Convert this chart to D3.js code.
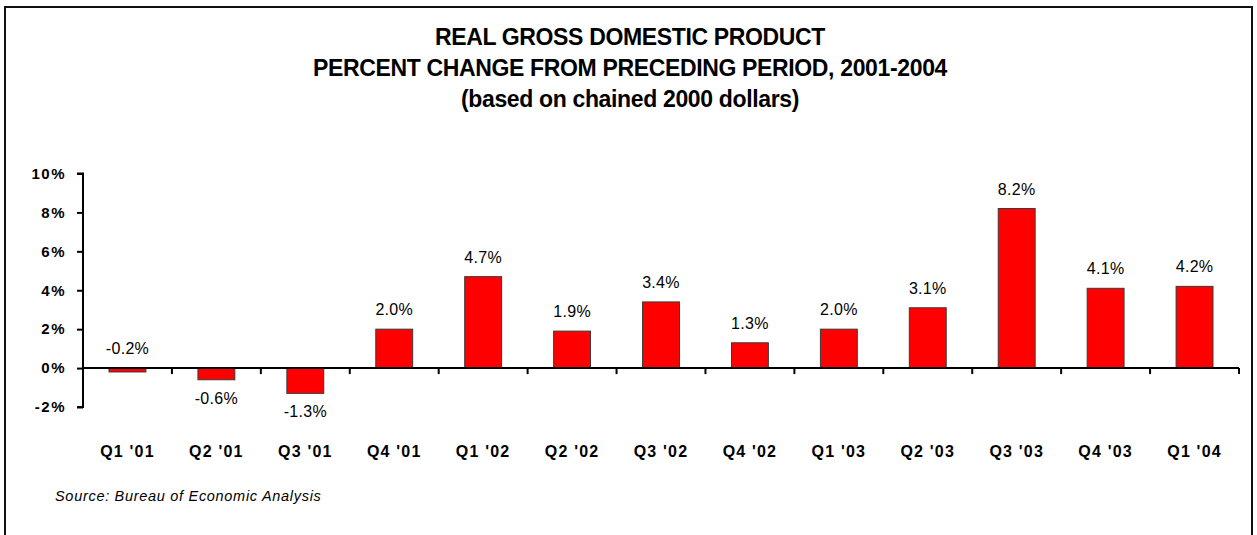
<!DOCTYPE html>
<html>
<head>
<meta charset="utf-8">
<script src="https://cdn.jsdelivr.net/npm/d3@7/dist/d3.min.js"></script>
<style>
  html, body { margin: 0; padding: 0; background: #fff; }
  svg { display: block; font-family: "Liberation Sans", Arial, sans-serif; }
</style>
</head>
<body>
<svg id="chart" width="1257" height="535"></svg>
<script>
// Quarterly real GDP growth, percent change from preceding period
const quarters = ["Q1 '01", "Q2 '01", "Q3 '01", "Q4 '01", "Q1 '02", "Q2 '02", "Q3 '02",
                  "Q4 '02", "Q1 '03", "Q2 '03", "Q3 '03", "Q4 '03", "Q1 '04"];
const growth = [-0.2, -0.6, -1.3, 2.0, 4.7, 1.9, 3.4, 1.3, 2.0, 3.1, 8.2, 4.1, 4.2];
const yTicks = [-2, 0, 2, 4, 6, 8, 10];
const titleLines = [
  "REAL GROSS DOMESTIC PRODUCT",
  "PERCENT CHANGE FROM PRECEDING PERIOD, 2001-2004",
  "(based on chained 2000 dollars)"
];
const sourceNote = "Source:  Bureau of Economic Analysis";

const svg = d3.select("#chart");

// outer frame
svg.append("rect")
  .attr("x", 5).attr("y", 7)
  .attr("width", 1247).attr("height", 560)
  .attr("fill", "none").attr("stroke", "#111").attr("stroke-width", 2);

// title block
svg.append("g").selectAll("text")
  .data(titleLines)
  .join("text")
  .attr("x", 630)
  .attr("y", (d, i) => 45 + i * 31)
  .attr("text-anchor", "middle")
  .attr("font-weight", "bold")
  .attr("font-size", 23)
  .attr("letter-spacing", -0.35)
  .attr("fill", "#000")
  .text(d => d);

const x = d3.scaleBand().domain(quarters).range([83, 1239]).padding(0);
const y = d3.scaleLinear().domain([-2, 10]).range([407, 173.5]);
const barW = x.step() * 0.415;

// bars
svg.append("g").selectAll("rect")
  .data(growth)
  .join("rect")
  .attr("x", (d, i) => x(quarters[i]) + x.bandwidth() / 2 - barW / 2)
  .attr("y", d => y(Math.max(0, d)))
  .attr("width", barW)
  .attr("height", d => Math.abs(y(d) - y(0)))
  .attr("fill", "#ff0000")
  .attr("stroke", "#3a3a3a")
  .attr("stroke-width", 1);

// value labels (plain hyphen for negatives)
const fmt = d3.formatLocale({ decimal: ".", thousands: ",", grouping: [3], currency: ["", ""], minus: "-" }).format(".1f");
svg.append("g").selectAll("text")
  .data(growth)
  .join("text")
  .attr("x", (d, i) => x(quarters[i]) + x.bandwidth() / 2)
  .attr("y", d => d > -0.5 ? y(Math.max(0, d)) - 14 : y(d) + 24)
  .attr("text-anchor", "middle")
  .attr("font-size", 16)
  .attr("letter-spacing", 0.3)
  .attr("fill", "#000")
  .text(d => fmt(d) + "%");

// y axis
const yAxis = svg.append("g")
  .attr("transform", "translate(83,0)")
  .call(d3.axisLeft(y).tickValues(yTicks).tickSize(6).tickFormat(d => d + "%"));
yAxis.select(".domain").attr("stroke", "#000").attr("stroke-width", 2)
  .attr("d", `M-6,${y(10)}H0V${y(-2)}H-6`);
yAxis.selectAll(".tick line").attr("stroke", "#000").attr("stroke-width", 2);
yAxis.selectAll(".tick text")
  .attr("x", -17)
  .attr("font-family", "Liberation Sans, Arial, sans-serif")
  .attr("font-size", 15)
  .attr("font-weight", "bold")
  .attr("letter-spacing", 1.5)
  .attr("fill", "#000");

// x axis along zero with ticks at category boundaries
const xAxisG = svg.append("g").attr("transform", `translate(0,${y(0)})`);
xAxisG.append("line")
  .attr("x1", 83).attr("x2", 1239)
  .attr("stroke", "#000").attr("stroke-width", 2);
const bounds = quarters.map(q => x(q)).concat([x(quarters[quarters.length - 1]) + x.step()]);
xAxisG.selectAll(".bt")
  .data(bounds)
  .join("line")
  .attr("class", "bt")
  .attr("x1", d => d).attr("x2", d => d)
  .attr("y1", 0).attr("y2", 6)
  .attr("stroke", "#000").attr("stroke-width", 2);

// category labels
svg.append("g").selectAll("text")
  .data(quarters)
  .join("text")
  .attr("x", d => x(d) + x.bandwidth() / 2)
  .attr("y", 457)
  .attr("text-anchor", "middle")
  .attr("font-size", 16)
  .attr("font-weight", "bold")
  .attr("letter-spacing", 1.2)
  .attr("fill", "#000")
  .text(d => d);

// source note
svg.append("text")
  .attr("x", 55).attr("y", 501)
  .attr("font-size", 14.5)
  .attr("font-style", "italic")
  .attr("letter-spacing", 0.7)
  .attr("fill", "#000")
  .text(sourceNote);
</script>
</body>
</html>
